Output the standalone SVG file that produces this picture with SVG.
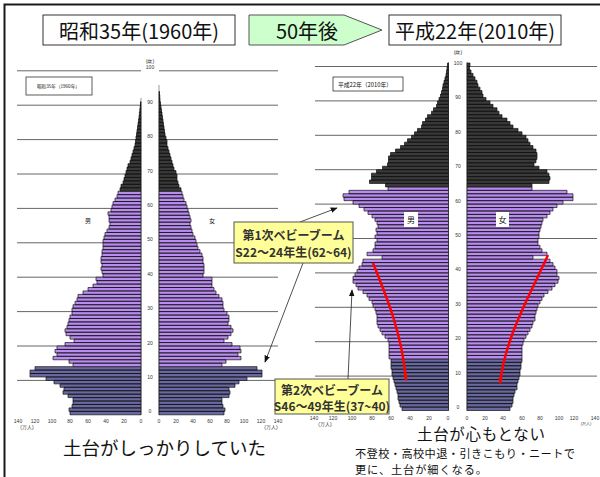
<svg xmlns="http://www.w3.org/2000/svg" width="600" height="477" viewBox="0 0 600 477">
<style>
.bar{stroke:#111;stroke-width:0.7;vector-effect:non-scaling-stroke}
.o{fill:#3a3a3a}.p{fill:#b98cf0}.d{fill:#6a68a0}
.grid{stroke:#666;stroke-width:1;fill:none}
.axis{stroke:#999;stroke-width:1;fill:none}
.tiny{font-family:"Liberation Sans",Arial,sans-serif;font-size:5px;fill:#333;text-anchor:middle}
.jp{font-family:"Noto Sans CJK JP","Noto Sans",sans-serif;fill:#111}
.hbox{fill:#fff;stroke:#333;stroke-width:1}
.call{fill:#ffff99;stroke:#555;stroke-width:1}
.ctext{font-family:"Noto Sans CJK JP","Noto Sans",sans-serif;font-weight:bold;font-size:12px;fill:#333;text-anchor:middle}
.conn{stroke:#222;stroke-width:0.8;fill:none}
.red{stroke:#ff0000;stroke-width:2.5;fill:none}
</style>
<defs>
<marker id="ah" viewBox="0 0 10 10" refX="9" refY="5" markerWidth="7" markerHeight="7" markerUnits="userSpaceOnUse" orient="auto"><path d="M0,1L10,5L0,9z" fill="#111"/></marker>
<marker id="rh" viewBox="0 0 10 10" refX="8" refY="5" markerWidth="6" markerHeight="6" markerUnits="userSpaceOnUse" orient="auto"><path d="M0,1L10,5L0,9z" fill="#ff0000"/></marker>
</defs>
<rect width="600" height="477" fill="#fff"/>
<path d="M3.5,4.5H600M4.5,3.5V477" stroke="#1a1a1a" stroke-width="2" fill="none"/>

<g id="header">
<rect class="hbox" x="43" y="15" width="192" height="30"/>
<text class="jp" x="139" y="38.5" font-size="20" text-anchor="middle">昭和35年(1960年)</text>
<polygon points="249,15 344,15 382,30 344,45 249,45" fill="#ccffcc" stroke="#555" stroke-width="1"/>
<text class="jp" x="307" y="38.5" font-size="20" text-anchor="middle">50年後</text>
<rect class="hbox" x="389" y="15" width="172" height="30"/>
<text class="jp" x="475" y="38.5" font-size="20" text-anchor="middle">平成22年(2010年)</text>
</g>

<g id="chart-1960">
<path class="grid" d="M17,380.4H141M159,380.4H278M17,346H141M159,346H278M17,311.6H141M159,311.6H278M17,277.2H141M159,277.2H278M17,242.8H141M159,242.8H278M17,208.4H141M159,208.4H278M17,174H141M159,174H278M17,139.6H141M159,139.6H278M17,105.2H141M159,105.2H278M17,70.8H141M159,70.8H278"/>
<path class="axis" d="M141,98V415M159,85V415"/>
<g transform="matrix(-1 0 0 -3.44 141 414.8)">
<path class="bar d" d="M0 0h71v1H0zM0 1h72v1H0zM0 2h69v1H0zM0 3h68v1H0zM0 4h68v1H0zM0 5h73v1H0zM0 6h78v1H0zM0 7h77v1H0zM0 8h81v1H0zM0 9h87v1H0zM0 10h95v1H0zM0 11h111v1H0zM0 12h111v1H0zM0 13h106v1H0z"/>
<path class="bar p" d="M0 14h68v1H0zM0 15h72v1H0zM0 16h88v1H0zM0 17h84v1H0zM0 18h86v1H0zM0 19h84v1H0zM0 20h76v1H0zM0 21h67v1H0zM0 22h71v1H0zM0 23h75v1H0zM0 24h76v1H0zM0 25h74v1H0zM0 26h73v1H0zM0 27h72v1H0zM0 28h71v1H0zM0 29h69v1H0zM0 30h69v1H0zM0 31h68v1H0zM0 32h66v1H0zM0 33h64v1H0zM0 34h63v1H0zM0 35h58v1H0zM0 36h53v1H0zM0 37h48v1H0zM0 38h44v1H0zM0 39h45v1H0zM0 40h38v1H0zM0 41h39v1H0zM0 42h40v1H0zM0 43h39v1H0zM0 44h40v1H0zM0 45h40v1H0zM0 46h39v1H0zM0 47h39v1H0zM0 48h38v1H0zM0 49h38v1H0zM0 50h38v1H0zM0 51h37v1H0zM0 52h36v1H0zM0 53h34v1H0zM0 54h32v1H0zM0 55h31v1H0zM0 56h32v1H0zM0 57h32v1H0zM0 58h33v1H0zM0 59h30v1H0zM0 60h29v1H0zM0 61h28v1H0zM0 62h26v1H0zM0 63h24v1H0zM0 64h23v1H0z"/>
<path class="bar o" d="M0 65h21v1H0zM0 66h20v1H0zM0 67h18v1H0zM0 68h17v1H0zM0 69h16v1H0zM0 70h15v1H0zM0 71h14v1H0zM0 72h13v1H0zM0 73h11v1H0zM0 74h10v1H0zM0 75h9v1H0zM0 76h8v1H0zM0 77h7v1H0zM0 78h6v1H0zM0 79h5.5v1H0zM0 80h5v1H0zM0 81h4.5v1H0zM0 82h4v1H0zM0 83h3.5v1H0zM0 84h3v1H0zM0 85h2.5v1H0zM0 86h2v1H0zM0 87h1.6v1H0zM0 88h1.2v1H0zM0 89h0.8v1H0zM0 90h0.5v1H0z"/>
</g>
<g transform="matrix(1 0 0 -3.44 159 414.8)">
<path class="bar d" d="M0 0h65v1H0zM0 1h66v1H0zM0 2h64v1H0zM0 3h63v1H0zM0 4h63v1H0zM0 5h70v1H0zM0 6h71v1H0zM0 7h70v1H0zM0 8h76v1H0zM0 9h80v1H0zM0 10h88v1H0zM0 11h103v1H0zM0 12h103v1H0zM0 13h98v1H0z"/>
<path class="bar p" d="M0 14h63v1H0zM0 15h67v1H0zM0 16h82v1H0zM0 17h79v1H0zM0 18h82v1H0zM0 19h81v1H0zM0 20h73v1H0zM0 21h65v1H0zM0 22h69v1H0zM0 23h72v1H0zM0 24h74v1H0zM0 25h72v1H0zM0 26h69v1H0zM0 27h70v1H0zM0 28h70v1H0zM0 29h68v1H0zM0 30h65v1H0zM0 31h64v1H0zM0 32h64v1H0zM0 33h63v1H0zM0 34h60v1H0zM0 35h57v1H0zM0 36h55v1H0zM0 37h53v1H0zM0 38h53v1H0zM0 39h53v1H0zM0 40h44v1H0zM0 41h45v1H0zM0 42h45v1H0zM0 43h45v1H0zM0 44h44v1H0zM0 45h44v1H0zM0 46h43v1H0zM0 47h41v1H0zM0 48h39v1H0zM0 49h38v1H0zM0 50h37v1H0zM0 51h36v1H0zM0 52h34v1H0zM0 53h33v1H0zM0 54h32v1H0zM0 55h31v1H0zM0 56h32v1H0zM0 57h31v1H0zM0 58h30v1H0zM0 59h29v1H0zM0 60h28v1H0zM0 61h27v1H0zM0 62h25v1H0zM0 63h24v1H0zM0 64h23v1H0z"/>
<path class="bar o" d="M0 65h22v1H0zM0 66h20v1H0zM0 67h19v1H0zM0 68h18v1H0zM0 69h18v1H0zM0 70h17v1H0zM0 71h15v1H0zM0 72h14v1H0zM0 73h13v1H0zM0 74h12v1H0zM0 75h11v1H0zM0 76h10v1H0zM0 77h9v1H0zM0 78h8v1H0zM0 79h8v1H0zM0 80h7v1H0zM0 81h6v1H0zM0 82h5.5v1H0zM0 83h5v1H0zM0 84h4.5v1H0zM0 85h4v1H0zM0 86h3.5v1H0zM0 87h3v1H0zM0 88h2.5v1H0zM0 89h2v1H0zM0 90h1.5v1H0zM0 91h1v1H0zM0 92h0.8v1H0zM0 93h0.5v1H0z"/>
</g>
<g class="tiny">
<text x="150" y="63">(歳)</text>
<text x="150" y="413.3">0</text><text x="150" y="378.9">10</text><text x="150" y="344.5">20</text><text x="150" y="310.1">30</text><text x="150" y="275.7">40</text><text x="150" y="241.3">50</text><text x="150" y="206.9">60</text><text x="150" y="172.5">70</text><text x="150" y="138.1">80</text><text x="150" y="103.7">90</text><text x="150" y="69.3">100</text>
<text x="18" y="423">140</text><text x="35" y="423">120</text><text x="52" y="423">100</text><text x="70" y="423">80</text><text x="88" y="423">60</text><text x="106" y="423">40</text><text x="124" y="423">20</text><text x="141" y="423">0</text>
<text x="159" y="423">0</text><text x="176" y="423">20</text><text x="193" y="423">40</text><text x="210" y="423">60</text><text x="227" y="423">80</text><text x="244" y="423">100</text><text x="261" y="423">120</text><text x="278" y="423">140</text>
<text x="27" y="429">(万人)</text><text x="271" y="429">(万人)</text>
</g>
<text class="jp" x="88" y="223" font-size="6" text-anchor="middle">男</text>
<text class="jp" x="212" y="223" font-size="6" text-anchor="middle">女</text>
<rect x="26" y="77" width="66" height="18" fill="#fff" stroke="#333" stroke-width="0.8"/>
<text class="jp" x="37" y="88" font-size="4.6">昭和35年（1960年）</text>
</g>

<g id="chart-2010">
<path class="grid" d="M315,376.1H448.5M467,376.1H597M315,341.7H448.5M467,341.7H597M315,307.3H448.5M467,307.3H597M315,272.9H448.5M467,272.9H597M315,238.5H448.5M467,238.5H597M315,204.1H448.5M467,204.1H597M315,169.7H448.5M467,169.7H597M315,135.3H448.5M467,135.3H597M315,100.9H448.5M467,100.9H597M315,66.5H448.5M467,66.5H597"/>
<path class="axis" d="M448.5,62V411M467,62V411"/>
<g transform="matrix(-1 0 0 -3.44 448.5 410.5)">
<path class="bar d" d="M0 0h46.5v1H0zM0 1h48.5v1H0zM0 2h49.5v1H0zM0 3h50.5v1H0zM0 4h50.5v1H0zM0 5h51.5v1H0zM0 6h52.5v1H0zM0 7h53.5v1H0zM0 8h54.5v1H0zM0 9h55.5v1H0zM0 10h56.5v1H0zM0 11h56.5v1H0zM0 12h57.5v1H0zM0 13h57.5v1H0zM0 14h57.5v1H0z"/>
<path class="bar p" d="M0 15h59.5v1H0zM0 16h59.5v1H0zM0 17h59.5v1H0zM0 18h59.5v1H0zM0 19h59.5v1H0zM0 20h60.5v1H0zM0 21h63.5v1H0zM0 22h66.5v1H0zM0 23h68.5v1H0zM0 24h70.5v1H0zM0 25h71.5v1H0zM0 26h71.5v1H0zM0 27h71.5v1H0zM0 28h72.5v1H0zM0 29h73.5v1H0zM0 30h75.5v1H0zM0 31h76.5v1H0zM0 32h79.5v1H0zM0 33h81.5v1H0zM0 34h85.5v1H0zM0 35h90.5v1H0zM0 36h92.5v1H0zM0 37h95.5v1H0zM0 38h95.5v1H0zM0 39h93.5v1H0zM0 40h91.5v1H0zM0 41h89.5v1H0zM0 42h86.5v1H0zM0 43h85.5v1H0zM0 44h66.5v1H0zM0 45h81.5v1H0zM0 46h75.5v1H0zM0 47h73.5v1H0zM0 48h73.5v1H0zM0 49h71.5v1H0zM0 50h73.5v1H0zM0 51h71.5v1H0zM0 52h72.5v1H0zM0 53h70.5v1H0zM0 54h71.5v1H0zM0 55h73.5v1H0zM0 56h76.5v1H0zM0 57h80.5v1H0zM0 58h84.5v1H0zM0 59h89.5v1H0zM0 60h95.5v1H0zM0 61h104.5v1H0zM0 62h105.5v1H0zM0 63h99.5v1H0zM0 64h60.5v1H0z"/>
<path class="bar o" d="M0 65h63v1H0zM0 66h79v1H0zM0 67h77v1H0zM0 68h77v1H0zM0 69h72v1H0zM0 70h66v1H0zM0 71h61v1H0zM0 72h60v1H0zM0 73h60v1H0zM0 74h58v1H0zM0 75h53v1H0zM0 76h48v1H0zM0 77h44v1H0zM0 78h41v1H0zM0 79h37v1H0zM0 80h34v1H0zM0 81h31v1H0zM0 82h27v1H0zM0 83h26v1H0zM0 84h23v1H0zM0 85h21v1H0zM0 86h17v1H0zM0 87h15v1H0zM0 88h12v1H0zM0 89h11v1H0zM0 90h9.5v1H0zM0 91h8v1H0zM0 92h7v1H0zM0 93h6v1H0zM0 94h5.5v1H0zM0 95h4.5v1H0zM0 96h3.5v1H0zM0 97h2.5v1H0zM0 98h2v1H0zM0 99h1.5v1H0zM0 100h1v1H0z"/>
</g>
<g transform="matrix(1 0 0 -3.44 467 410.5)">
<path class="bar d" d="M0 0h43v1H0zM0 1h45v1H0zM0 2h46v1H0zM0 3h46v1H0zM0 4h47v1H0zM0 5h48v1H0zM0 6h50v1H0zM0 7h50v1H0zM0 8h51v1H0zM0 9h52v1H0zM0 10h53v1H0zM0 11h53v1H0zM0 12h54v1H0zM0 13h54v1H0zM0 14h55v1H0z"/>
<path class="bar p" d="M0 15h55v1H0zM0 16h55v1H0zM0 17h55v1H0zM0 18h55v1H0zM0 19h56v1H0zM0 20h57v1H0zM0 21h59v1H0zM0 22h61v1H0zM0 23h63v1H0zM0 24h65v1H0zM0 25h66v1H0zM0 26h68v1H0zM0 27h68v1H0zM0 28h69v1H0zM0 29h70v1H0zM0 30h71v1H0zM0 31h73v1H0zM0 32h75v1H0zM0 33h77v1H0zM0 34h81v1H0zM0 35h85v1H0zM0 36h88v1H0zM0 37h91v1H0zM0 38h92v1H0zM0 39h90v1H0zM0 40h90v1H0zM0 41h88v1H0zM0 42h86v1H0zM0 43h83v1H0zM0 44h66v1H0zM0 45h80v1H0zM0 46h75v1H0zM0 47h73v1H0zM0 48h71v1H0zM0 49h71v1H0zM0 50h72v1H0zM0 51h72v1H0zM0 52h73v1H0zM0 53h74v1H0zM0 54h75v1H0zM0 55h76v1H0zM0 56h80v1H0zM0 57h83v1H0zM0 58h86v1H0zM0 59h90v1H0zM0 60h96v1H0zM0 61h106v1H0zM0 62h106v1H0zM0 63h100v1H0zM0 64h65v1H0z"/>
<path class="bar o" d="M0 65h65v1H0zM0 66h82v1H0zM0 67h83v1H0zM0 68h82v1H0zM0 69h80v1H0zM0 70h72v1H0zM0 71h67v1H0zM0 72h69v1H0zM0 73h70v1H0zM0 74h70v1H0zM0 75h69v1H0zM0 76h66v1H0zM0 77h63v1H0zM0 78h61v1H0zM0 79h59v1H0zM0 80h55v1H0zM0 81h51v1H0zM0 82h46v1H0zM0 83h43v1H0zM0 84h40v1H0zM0 85h35v1H0zM0 86h32v1H0zM0 87h30v1H0zM0 88h26v1H0zM0 89h23v1H0zM0 90h19v1H0zM0 91h16v1H0zM0 92h15v1H0zM0 93h13v1H0zM0 94h11v1H0zM0 95h10v1H0zM0 96h8v1H0zM0 97h6v1H0zM0 98h4v1H0zM0 99h2.5v1H0zM0 100h3v1H0z"/>
</g>
<g class="tiny">
<text x="458" y="54">(歳)</text>
<text x="458" y="409">0</text><text x="458" y="374.6">10</text><text x="458" y="340.2">20</text><text x="458" y="305.8">30</text><text x="458" y="271.4">40</text><text x="458" y="237">50</text><text x="458" y="202.6">60</text><text x="458" y="168.2">70</text><text x="458" y="133.8">80</text><text x="458" y="99.4">90</text><text x="458" y="65">100</text>
<text x="314" y="420">140</text><text x="333" y="420">120</text><text x="352" y="420">100</text><text x="372" y="420">80</text><text x="391" y="420">60</text><text x="410" y="420">40</text><text x="429" y="420">20</text><text x="448" y="420">0</text>
<text x="467" y="420">0</text><text x="485" y="420">20</text><text x="503" y="420">40</text><text x="522" y="420">60</text><text x="540" y="420">80</text><text x="559" y="420">100</text><text x="574" y="420">120</text><text x="595" y="420">140</text>
<text x="325" y="425.5">(万人)</text><text x="586" y="424.5" font-size="4">(万人)</text>
</g>
<rect x="404" y="212" width="14" height="15" fill="#fff"/>
<text class="jp" x="411" y="223" font-size="8" text-anchor="middle">男</text>
<rect x="496" y="212" width="13" height="15" fill="#fff"/>
<text class="jp" x="502.5" y="223" font-size="8" text-anchor="middle">女</text>
<rect x="333" y="77" width="70" height="14" fill="#fff" stroke="#333" stroke-width="0.8"/>
<text class="jp" x="338" y="86.5" font-size="5.8">平成22年（2010年）</text>
</g>

<g id="connectors">
<path class="red" d="M373,263C388,300 402,335 406,380" marker-end="url(#rh)"/>
<path class="red" d="M548,255C530,295 506,335 500,383" marker-end="url(#rh)"/>
<path class="conn" d="M300,222L337,208" marker-end="url(#ah)"/>
<path class="conn" d="M303,263L265,362" marker-end="url(#ah)"/>
<path class="conn" d="M348,379L352,290" marker-end="url(#ah)"/>
</g>

<g id="callout-1">
<rect class="call" x="234" y="222" width="119" height="41"/>
<text class="ctext" x="293.5" y="240">第1次ベビーブーム</text>
<text class="ctext" x="293.5" y="257">S22～24年生(62~64)</text>
</g>

<g id="callout-2">
<rect class="call" x="275" y="379" width="114" height="35"/>
<text class="ctext" x="332" y="395">第2次ベビーブーム</text>
<text class="ctext" x="332" y="410.5">S46～49年生(37~40)</text>
</g>

<g id="captions">
<text class="jp" x="63" y="455" font-size="18.5">土台がしっかりしていた</text>
<text class="jp" x="417" y="440" font-size="15.5" textLength="128" lengthAdjust="spacing">土台が心もとない</text>
<text class="jp" x="355" y="457.5" font-size="11.2" textLength="220" lengthAdjust="spacing">不登校・高校中退・引きこもり・ニートで</text>
<text class="jp" x="355" y="473.8" font-size="11.2" textLength="132" lengthAdjust="spacing">更に、土台が細くなる。</text>
</g>
</svg>
